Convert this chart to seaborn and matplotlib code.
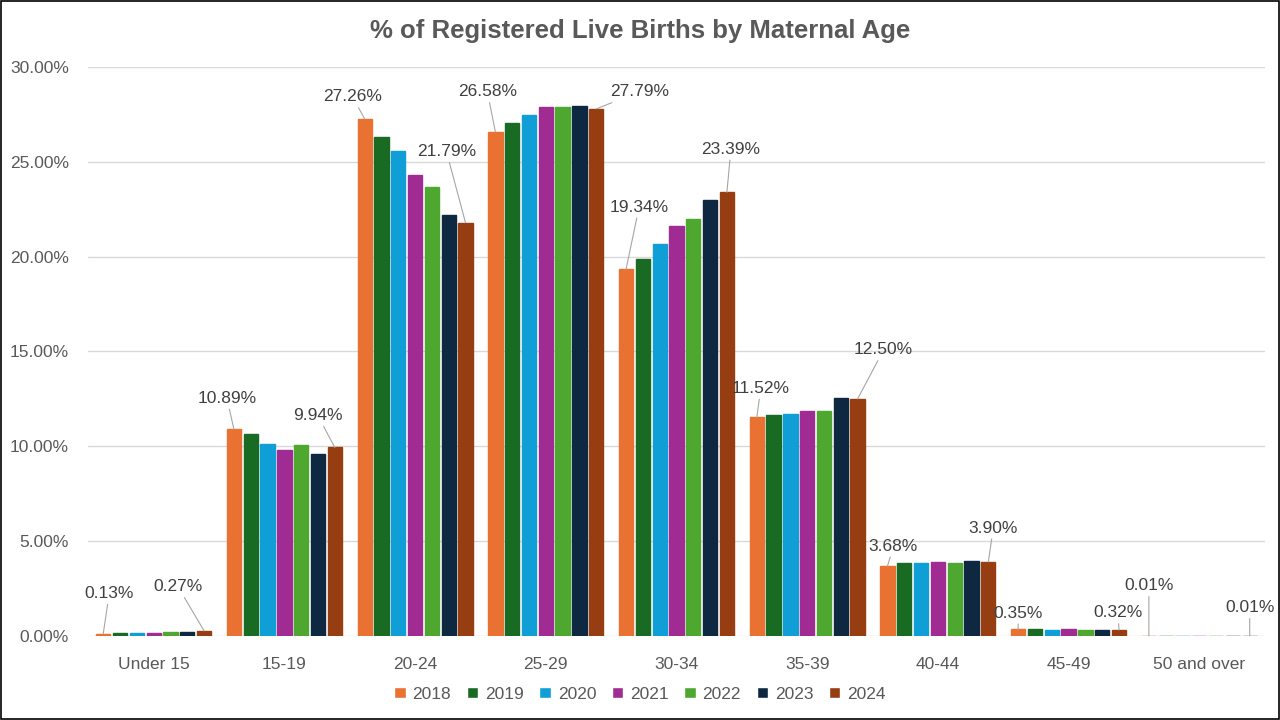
import pandas as pd
import numpy as np
import seaborn as sns
import matplotlib.pyplot as plt
from matplotlib.patches import Rectangle
from matplotlib.ticker import FuncFormatter

age_groups = ["Under 15", "15-19", "20-24", "25-29", "30-34", "35-39", "40-44", "45-49", "50 and over"]
years = ["2018", "2019", "2020", "2021", "2022", "2023", "2024"]

# % of live births per age group, one list per year
pct_2018 = [0.13, 10.89, 27.26, 26.58, 19.34, 11.52, 3.68, 0.35, 0.01]
pct_2019 = [0.18, 10.65, 26.30, 27.04, 19.87, 11.65, 3.83, 0.35, 0.01]
pct_2020 = [0.18, 10.12, 25.57, 27.46, 20.66, 11.70, 3.83, 0.34, 0.01]
pct_2021 = [0.18, 9.80, 24.30, 27.89, 21.61, 11.86, 3.92, 0.35, 0.01]
pct_2022 = [0.22, 10.07, 23.67, 27.89, 21.98, 11.86, 3.83, 0.34, 0.01]
pct_2023 = [0.22, 9.59, 22.19, 27.94, 22.98, 12.55, 3.97, 0.34, 0.01]
pct_2024 = [0.27, 9.94, 21.79, 27.79, 23.39, 12.50, 3.90, 0.32, 0.01]

colors = ["#E97132", "#196B24", "#0F9ED5", "#A02B93", "#4EA72E", "#0E2841", "#963E12"]

# label offsets (pixels, from bar top) for the 2018 and 2024 labels
offsets_2018 = [(6, 40), (-7, 31), (-12, 22), (-8, 40), (13, 62), (4, 29), (6, 20), (0, 16), (0, 50)]
offsets_2024 = [(-26, 44), (-17, 32), (-19, 71), (43, 17), (4, 43), (26, 49), (5, 34), (-1, 17), (0, 28)]

series = [pct_2018, pct_2019, pct_2020, pct_2021, pct_2022, pct_2023, pct_2024]
rows = []
for yr, vals in zip(years, series):
    for grp, v in zip(age_groups, vals):
        rows.append({"Age": grp, "Year": yr, "Pct": v})
df = pd.DataFrame(rows)

sns.set_style("white")
plt.rcParams["font.family"] = ["Liberation Sans", "DejaVu Sans"]
text_color = "#595959"

fig = plt.figure(figsize=(12.8, 7.2), dpi=100)
ax = fig.add_axes([0.069, 0.1167, 0.919, 0.7903])

sns.barplot(data=df, x="Age", y="Pct", hue="Year", order=age_groups, hue_order=years,
            palette=colors, width=0.9, gap=0.15, saturation=1, ax=ax, errorbar=None)

# thin outline in the bar colour so tiny bars stay visible
for cont, c in zip(ax.containers, colors):
    for bar in cont.patches:
        bar.set_edgecolor(c)
        bar.set_linewidth(1.0)

ax.set_ylim(0, 30)
ax.set_yticks(np.arange(0, 30.01, 5))
ax.yaxis.set_major_formatter(FuncFormatter(lambda v, p: f"{v:.2f}%"))
ax.grid(axis="y", color="#D9D9D9", lw=1)
ax.set_axisbelow(True)
for s in ["top", "right", "left", "bottom"]:
    ax.spines[s].set_visible(False)
ax.tick_params(axis="both", length=0, labelsize=12.5, labelcolor=text_color)
ax.tick_params(axis="x", pad=15)
ax.tick_params(axis="y", pad=14)
ax.set_xlabel("")
ax.set_ylabel("")

# data labels for first and last year
for cont, vals, offs in [(ax.containers[0], pct_2018, offsets_2018), (ax.containers[-1], pct_2024, offsets_2024)]:
    for bar, v, (dx, dy) in zip(cont.patches, vals, offs):
        x = bar.get_x() + bar.get_width() / 2
        ax.annotate(f"{v:.2f}%", xy=(x, bar.get_height()), xytext=(dx, dy),
                    textcoords="offset pixels", ha="center", va="center",
                    fontsize=12.5, color="#404040",
                    arrowprops=dict(arrowstyle="-", color="#A6A6A6", lw=0.8, shrinkA=0, shrinkB=0))

sns.move_legend(ax, "center", bbox_to_anchor=(0.5, 0.036), bbox_transform=fig.transFigure,
                ncol=7, frameon=False, title=None, fontsize=12.5,
                handlelength=0.65, handleheight=0.65, handletextpad=0.4, columnspacing=0.9)
for t in ax.get_legend().get_texts():
    t.set_color(text_color)

fig.text(0.5, 0.957, "% of Registered Live Births by Maternal Age", ha="center", va="center",
         fontsize=18.5, fontweight="bold", color=text_color)

fig.patches.append(Rectangle((0.001, 0.001), 0.998, 0.997, transform=fig.transFigure,
                             fill=False, edgecolor="black", lw=1.2))

fig.savefig("out.png", dpi=100)
